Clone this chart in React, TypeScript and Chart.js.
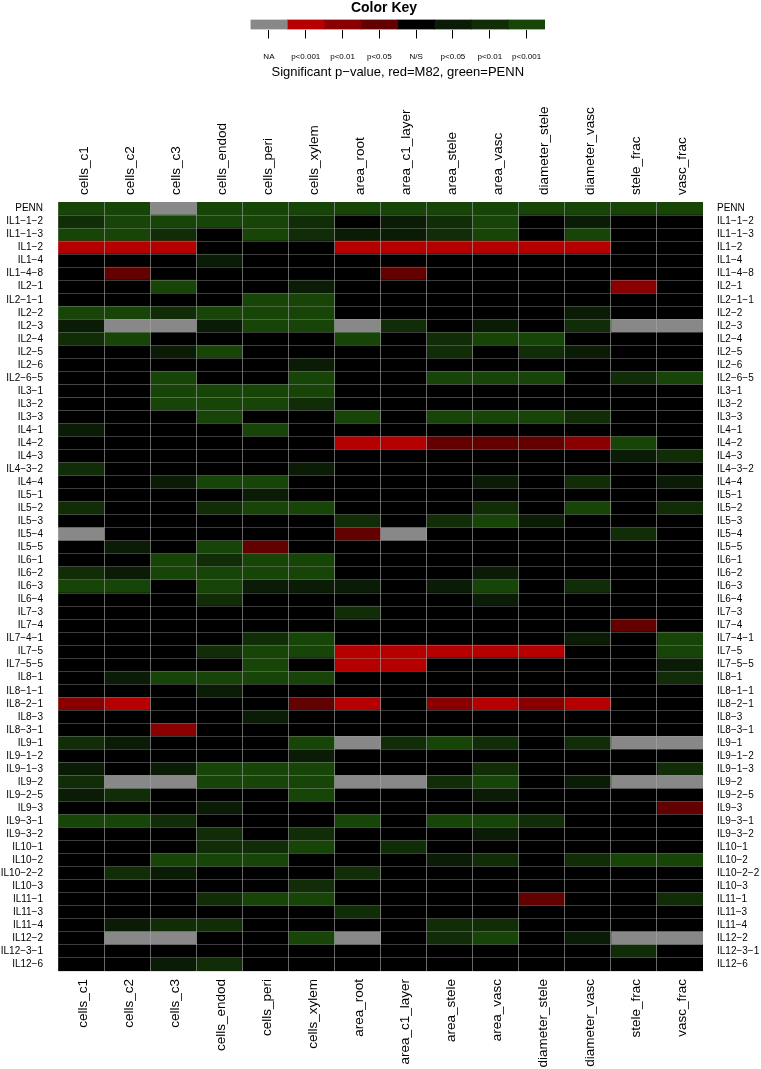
import React, { useEffect, useRef } from "react";
import { Chart, registerables } from "chart.js";

Chart.register(...registerables);

const N = null;
const R3 = -3;
const R2 = -2;
const R1 = -1;

const columnNames = ["cells_c1", "cells_c2", "cells_c3", "cells_endod", "cells_peri", "cells_xylem", "area_root", "area_c1_layer", "area_stele", "area_vasc", "diameter_stele", "diameter_vasc", "stele_frac", "vasc_frac"];

const labelsPenn = ["PENN"];
const valuesPenn = [[3, 3, N, 3, 3, 3, 3, 3, 3, 3, 3, 3, 3, 3]];

const labelsIL1 = ["IL1−1−2", "IL1−1−3", "IL1−2", "IL1−4", "IL1−4−8"];
const valuesIL1 = [
  [2, 3, 3, 3, 3, 2, 0, 1, 2, 3, 0, 1, 0, 0],
  [3, 3, 2, 0, 3, 2, 1, 1, 2, 3, 0, 3, 0, 0],
  [R3, R3, R3, 0, 0, 0, R3, R3, R3, R3, R3, R3, 0, 0],
  [0, 0, 0, 1, 0, 0, 0, 0, 0, 0, 0, 0, 0, 0],
  [0, R1, 0, 0, 0, 0, 0, R1, 0, 0, 0, 0, 0, 0],
];

const labelsIL2 = ["IL2−1", "IL2−1−1", "IL2−2", "IL2−3", "IL2−4", "IL2−5", "IL2−6", "IL2−6−5"];
const valuesIL2 = [
  [0, 0, 3, 0, 0, 1, 0, 0, 0, 0, 0, 0, R2, 0],
  [0, 0, 0, 0, 3, 3, 0, 0, 0, 0, 0, 0, 0, 0],
  [3, 3, 2, 3, 3, 3, 0, 0, 0, 0, 0, 1, 0, 0],
  [1, N, N, 1, 3, 3, N, 2, 0, 1, 0, 2, N, N],
  [2, 3, 0, 0, 0, 0, 3, 0, 2, 3, 3, 0, 0, 0],
  [0, 0, 1, 3, 0, 0, 0, 0, 2, 0, 2, 1, 0, 0],
  [0, 0, 0, 0, 0, 1, 0, 0, 0, 0, 0, 0, 0, 0],
  [0, 0, 3, 0, 0, 3, 0, 0, 3, 3, 3, 0, 2, 3],
];

const labelsIL3 = ["IL3−1", "IL3−2", "IL3−3"];
const valuesIL3 = [
  [0, 0, 3, 3, 3, 3, 0, 0, 0, 0, 0, 0, 0, 0],
  [0, 0, 3, 3, 3, 2, 0, 0, 0, 0, 0, 0, 0, 0],
  [0, 0, 0, 3, 0, 0, 3, 0, 3, 3, 3, 2, 0, 0],
];

const labelsIL4 = ["IL4−1", "IL4−2", "IL4−3", "IL4−3−2", "IL4−4"];
const valuesIL4 = [
  [1, 0, 0, 0, 3, 0, 0, 0, 0, 0, 0, 0, 0, 0],
  [0, 0, 0, 0, 0, 0, R3, R3, R1, R1, R1, R2, 3, 0],
  [0, 0, 0, 0, 0, 0, 0, 0, 0, 0, 0, 0, 1, 2],
  [2, 0, 0, 0, 0, 1, 0, 0, 0, 0, 0, 0, 0, 0],
  [0, 0, 1, 3, 3, 0, 0, 0, 0, 1, 0, 2, 0, 1],
];

const labelsIL5 = ["IL5−1", "IL5−2", "IL5−3", "IL5−4", "IL5−5"];
const valuesIL5 = [
  [0, 0, 0, 0, 1, 0, 0, 0, 0, 0, 0, 0, 0, 0],
  [2, 0, 0, 2, 3, 3, 0, 0, 0, 2, 0, 3, 0, 2],
  [0, 0, 0, 0, 0, 0, 2, 0, 2, 3, 1, 0, 0, 0],
  [N, 0, 0, 0, 0, 0, R1, N, 0, 0, 0, 0, 2, 0],
  [0, 1, 0, 3, R1, 0, 0, 0, 0, 0, 0, 0, 0, 0],
];

const labelsIL6 = ["IL6−1", "IL6−2", "IL6−3", "IL6−4"];
const valuesIL6 = [
  [0, 0, 3, 2, 3, 3, 0, 0, 0, 0, 0, 0, 0, 0],
  [2, 1, 3, 3, 3, 3, 0, 0, 0, 1, 0, 0, 0, 0],
  [3, 3, 0, 3, 1, 1, 1, 0, 1, 3, 0, 2, 0, 0],
  [0, 0, 0, 2, 0, 0, 0, 0, 0, 1, 0, 0, 0, 0],
];

const labelsIL7 = ["IL7−3", "IL7−4", "IL7−4−1", "IL7−5", "IL7−5−5"];
const valuesIL7 = [
  [0, 0, 0, 0, 0, 0, 2, 0, 0, 0, 0, 0, 0, 0],
  [0, 0, 0, 0, 0, 0, 0, 0, 0, 0, 0, 0, R1, 0],
  [0, 0, 0, 0, 2, 3, 0, 0, 0, 0, 0, 1, 0, 3],
  [0, 0, 0, 2, 3, 3, R3, R3, R3, R3, R3, 0, 0, 3],
  [0, 0, 0, 0, 3, 0, R3, R3, 0, 0, 0, 0, 0, 1],
];

const labelsIL8 = ["IL8−1", "IL8−1−1", "IL8−2−1", "IL8−3", "IL8−3−1"];
const valuesIL8 = [
  [0, 1, 3, 3, 3, 3, 0, 0, 0, 0, 0, 0, 0, 2],
  [0, 0, 0, 1, 0, 0, 0, 0, 0, 0, 0, 0, 0, 0],
  [R2, R3, 0, 0, 0, R1, R3, 0, R2, R3, R2, R3, 0, 0],
  [0, 0, 0, 0, 1, 0, 0, 0, 0, 0, 0, 0, 0, 0],
  [0, 0, R2, 0, 0, 0, 0, 0, 0, 0, 0, 0, 0, 0],
];

const labelsIL9 = ["IL9−1", "IL9−1−2", "IL9−1−3", "IL9−2", "IL9−2−5", "IL9−3", "IL9−3−1", "IL9−3−2"];
const valuesIL9 = [
  [2, 1, 0, 0, 0, 3, N, 2, 3, 2, 0, 2, N, N],
  [0, 0, 0, 0, 0, 1, 0, 0, 0, 0, 0, 0, 0, 0],
  [1, 0, 1, 3, 3, 3, 0, 0, 0, 2, 0, 0, 0, 2],
  [2, N, N, 3, 3, 3, N, N, 2, 3, 0, 1, N, N],
  [1, 2, 0, 0, 0, 3, 0, 0, 0, 1, 0, 0, 0, 0],
  [0, 0, 0, 1, 0, 0, 0, 0, 0, 0, 0, 0, 0, R1],
  [3, 3, 2, 0, 0, 0, 3, 0, 3, 3, 2, 0, 0, 0],
  [0, 0, 0, 2, 0, 2, 0, 0, 0, 1, 0, 0, 0, 0],
];

const labelsIL10 = ["IL10−1", "IL10−2", "IL10−2−2", "IL10−3"];
const valuesIL10 = [
  [0, 0, 0, 2, 2, 3, 0, 2, 0, 0, 0, 0, 0, 0],
  [0, 0, 3, 3, 3, 0, 0, 0, 1, 2, 0, 2, 3, 3],
  [0, 2, 1, 0, 0, 0, 2, 0, 0, 0, 0, 0, 0, 0],
  [0, 0, 0, 0, 0, 2, 0, 0, 0, 0, 0, 0, 0, 0],
];

const labelsIL11 = ["IL11−1", "IL11−3", "IL11−4"];
const valuesIL11 = [
  [0, 0, 0, 2, 3, 3, 0, 0, 0, 0, R1, 0, 0, 2],
  [0, 0, 0, 0, 0, 0, 2, 0, 0, 0, 0, 0, 0, 0],
  [0, 1, 2, 2, 0, 0, 0, 0, 2, 2, 0, 0, 0, 0],
];

const labelsIL12 = ["IL12−2", "IL12−3−1", "IL12−6"];
const valuesIL12 = [
  [0, N, N, 0, 0, 3, N, 0, 2, 3, 0, 1, N, N],
  [0, 0, 0, 0, 0, 0, 0, 0, 0, 0, 0, 0, 2, 0],
  [0, 0, 1, 2, 0, 0, 0, 0, 0, 0, 0, 0, 0, 0],
];

const keyLabels = ["NA", "p<0.001", "p<0.01", "p<0.05", "N/S", "p<0.05", "p<0.01", "p<0.001"];
const keyLevels = [N, R3, R2, R1, 0, 1, 2, 3];

const rowLabels = [...labelsPenn, ...labelsIL1, ...labelsIL2, ...labelsIL3, ...labelsIL4, ...labelsIL5, ...labelsIL6, ...labelsIL7, ...labelsIL8, ...labelsIL9, ...labelsIL10, ...labelsIL11, ...labelsIL12];
const rowValues = [...valuesPenn, ...valuesIL1, ...valuesIL2, ...valuesIL3, ...valuesIL4, ...valuesIL5, ...valuesIL6, ...valuesIL7, ...valuesIL8, ...valuesIL9, ...valuesIL10, ...valuesIL11, ...valuesIL12];

const FONT = '"Liberation Sans", Arial, sans-serif';

function levelColor(level: number | null): string {
  if (level === null) return "#888888";
  const map: Record<string, string> = {
    "-3": "#b60000",
    "-2": "#8a0000",
    "-1": "#630000",
    "0": "#000000",
    "1": "#0a1c05",
    "2": "#102d08",
    "3": "#174407",
  };
  return map[String(level)];
}

const force = (w?: number, h?: number) => (scale: any) => {
  if (w !== undefined) scale.width = w;
  if (h !== undefined) scale.height = h;
};

export default function App() {
  const keyRef = useRef<HTMLCanvasElement>(null);
  const mainRef = useRef<HTMLCanvasElement>(null);

  useEffect(() => {
    const keyChart = new Chart(keyRef.current!, {
      type: "bar",
      data: {
        labels: ["key"],
        datasets: keyLevels.map((lv, i) => ({
          data: [[i, i + 1]],
          backgroundColor: levelColor(lv),
          borderWidth: 0,
          barPercentage: 1,
          categoryPercentage: 1,
          grouped: false,
          xAxisID: "x",
          yAxisID: "y",
        })) as any,
      },
      options: {
        indexAxis: "y",
        responsive: false,
        animation: false,
        devicePixelRatio: 1,
        layout: { padding: { left: 223, right: 216, top: 0, bottom: 0 } },
        plugins: {
          legend: { display: false },
          tooltip: { enabled: false },
          title: {
            display: true,
            text: "Color Key",
            color: "#000",
            font: { family: FONT, size: 14, weight: "bold", lineHeight: 1 },
            padding: { top: 1, bottom: 4.5 },
          },
        },
        scales: {
          x: {
            type: "linear",
            min: 0,
            max: 8,
            display: true,
            grid: { display: false },
            border: { display: false },
            ticks: { display: false },
            afterFit: force(undefined, 0),
          },
          xKey: {
            type: "category",
            labels: keyLabels,
            position: "bottom",
            offset: true,
            grid: { display: true, offset: false, drawOnChartArea: false, drawTicks: true, tickLength: 9, tickColor: "#000", tickWidth: 1 },
            border: { display: false },
            ticks: { color: "#000", font: { family: FONT, size: 8 }, padding: 13, maxRotation: 0, autoSkip: false },
            title: {
              display: true,
              text: "Significant p−value, red=M82, green=PENN",
              color: "#000",
              font: { family: FONT, size: 13 },
              padding: 0,
            },
            afterFit: force(undefined, 50.5),
          },
          y: {
            display: true,
            grid: { display: false },
            border: { display: false },
            ticks: { display: false },
            afterFit: force(27.5),
          },
        },
      } as any,
    });

    const lineColor = (base: string) => (ctx: any) => (ctx.index === 0 ? "rgba(0,0,0,0)" : base);
    const vertical = (ctx: any) => (ctx.index === 0 || ctx.index === columnNames.length ? "rgba(0,0,0,0)" : "rgba(170,170,170,0.6)");

    const mainChart = new Chart(mainRef.current!, {
      type: "bar",
      data: {
        labels: rowLabels,
        datasets: columnNames.map((name, c) => ({
          label: name,
          data: rowValues.map(() => [c, c + 1]),
          backgroundColor: rowValues.map((row) => levelColor(row[c])),
          borderWidth: 0,
          barPercentage: 1,
          categoryPercentage: 1,
          grouped: false,
          xAxisID: "x",
          yAxisID: "y",
        })) as any,
      },
      options: {
        indexAxis: "y",
        responsive: false,
        animation: false,
        devicePixelRatio: 1,
        layout: { padding: 0 },
        plugins: { legend: { display: false }, tooltip: { enabled: false }, title: { display: false } },
        scales: {
          x: {
            type: "linear",
            min: 0,
            max: columnNames.length,
            position: "bottom",
            grid: { z: 1, drawTicks: false, color: vertical, lineWidth: 1 },
            border: { display: false },
            ticks: { display: false, stepSize: 1 },
            afterFit: force(undefined, 0),
          },
          xBottom: {
            type: "category",
            labels: columnNames,
            position: "bottom",
            offset: true,
            grid: { display: false, drawTicks: false },
            border: { display: false },
            ticks: { color: "#000", font: { family: FONT, size: 13.5 }, minRotation: 90, maxRotation: 90, autoSkip: false, padding: 8, labelOffset: 2 },
            afterFit: force(undefined, 98),
          },
          xTop: {
            type: "category",
            labels: columnNames,
            position: "top",
            offset: true,
            grid: { display: false, drawTicks: false },
            border: { display: false },
            ticks: { color: "#000", font: { family: FONT, size: 13.5 }, minRotation: 90, maxRotation: 90, autoSkip: false, padding: 7, labelOffset: 19 },
            afterFit: force(undefined, 122),
          },
          y: {
            type: "category",
            position: "left",
            offset: true,
            grid: { offset: true, z: 1, drawTicks: false, color: lineColor("rgba(170,170,170,0.35)"), lineWidth: 1 },
            border: { display: false },
            ticks: { color: "#000", font: { family: FONT, size: 10 }, padding: 15, autoSkip: false },
            afterFit: force(58),
          },
          yRight: {
            type: "category",
            labels: rowLabels,
            position: "right",
            offset: true,
            grid: { display: false, drawTicks: false },
            border: { display: false },
            ticks: { color: "#000", font: { family: FONT, size: 10 }, padding: 14, autoSkip: false },
            afterFit: force(58),
          },
        },
      } as any,
    });

    return () => {
      keyChart.destroy();
      mainChart.destroy();
    };
  }, []);

  return (
    <div style={{ position: "absolute", left: 0, top: 0, width: 761, height: 1069, background: "#fff" }}>
      <canvas ref={keyRef} width={761} height={80} style={{ position: "absolute", left: 0, top: 0 }} />
      <canvas ref={mainRef} width={761} height={989} style={{ position: "absolute", left: 0, top: 80 }} />
    </div>
  );
}
